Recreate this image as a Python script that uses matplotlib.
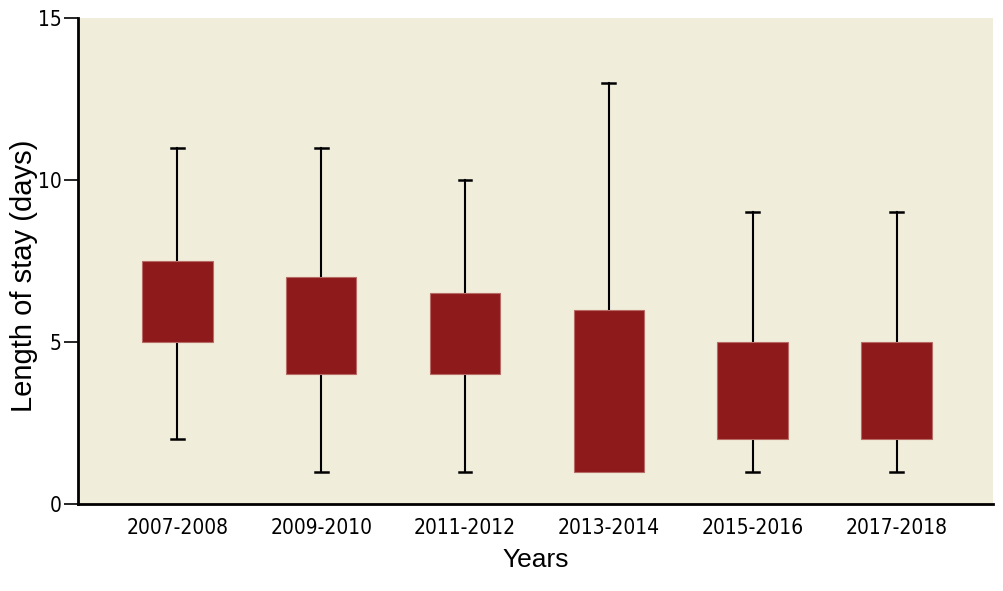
import matplotlib
matplotlib.use('Agg')
from matplotlib import pyplot as plt

# Datos
periodos = ['2007-2008', '2009-2010', '2011-2012', '2013-2014', '2015-2016', '2017-2018']
minimos = [2, 1, 1, 1, 1, 1]
q1 = [5, 4, 4, 1, 2, 2]
medianas = [6, 5, 5, 4, 3, 3]
q3 = [7.5, 7, 6.5, 6, 5, 5]
maximos = [11, 11, 10, 13, 9, 9]

stats = []
for i in range(len(periodos)):
    stats.append({'whislo': minimos[i], 'q1': q1[i], 'med': medianas[i],
                  'q3': q3[i], 'whishi': maximos[i], 'fliers': []})

plt.rcParams['font.family'] = ['DejaVu Sans']

fig = plt.figure(figsize=(10.04, 5.91), dpi=100)
ax = fig.add_axes([0.0777, 0.147, 0.9113, 0.8225])
ax.set_facecolor('#f1eddb')

rojo = '#8e1a1b'
res = ax.bxp(stats, positions=range(1, len(periodos) + 1), widths=0.49,
             patch_artist=True, showfliers=False, capwidths=0.09,
             boxprops=dict(facecolor=rojo, edgecolor='#b86a64', linewidth=0.8),
             medianprops=dict(color='#8a1a1a', linewidth=1),
             whiskerprops=dict(color='black', linewidth=1.5),
             capprops=dict(color='black', linewidth=1.8))
# sin tope inferior cuando el minimo coincide con q1
for i in range(len(periodos)):
    if minimos[i] == q1[i]:
        res['caps'][2 * i].set_visible(False)
    res['boxes'][i].set_zorder(3)

ax.set_xlim(0.31, 6.67)
ax.set_ylim(0, 15)
ax.set_yticks([0, 5, 10, 15])
ax.set_xticks(range(1, len(periodos) + 1))
ax.set_xticklabels(periodos, fontstretch='condensed')
ax.set_yticklabels(['0', '5', '10', '15'], fontstretch='condensed')
ax.tick_params(axis='x', length=0, labelsize=15, pad=10)
ax.tick_params(axis='y', length=10, width=1.2, labelsize=15, pad=2)
for s in ['top', 'right']:
    ax.spines[s].set_visible(False)
for s in ['left', 'bottom']:
    ax.spines[s].set_linewidth(2)

ax.set_xlabel('Years', fontsize=19, family='Liberation Sans', labelpad=7)
ax.set_ylabel('Length of stay (days)', fontsize=21, family='Liberation Sans')
ax.yaxis.set_label_coords(-0.044, 0.47)

plt.savefig('out.png', dpi=100)
